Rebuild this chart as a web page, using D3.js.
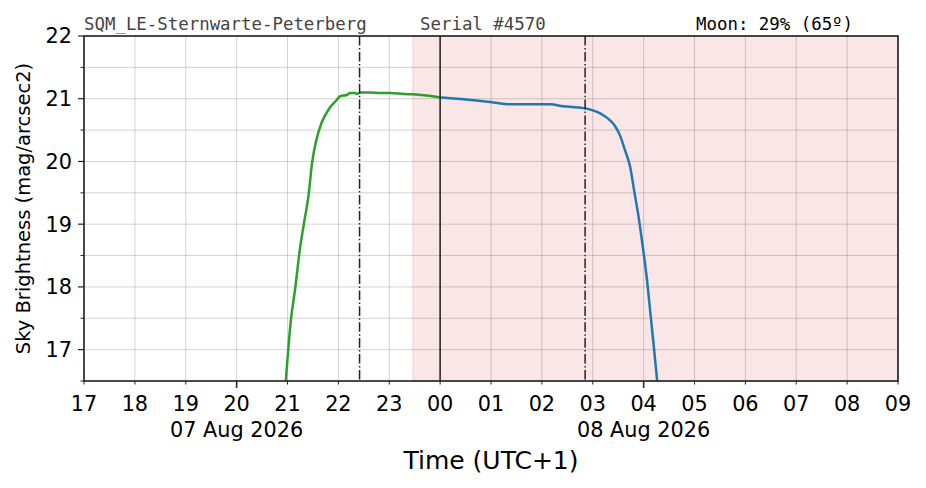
<!DOCTYPE html>
<html><head><meta charset="utf-8">
<script src="https://cdn.jsdelivr.net/npm/d3@7/dist/d3.min.js"></script>
<style>
html,body{margin:0;padding:0;background:#fff;}
</style></head>
<body><svg id="c" width="926" height="488"></svg>
<script>
// ---------- data ----------
const xDomain = ["2026-08-07 17:00", "2026-08-08 09:00"];
const yDomain = [16.5, 22];
const hourTicks = ["2026-08-07 17:00","2026-08-07 18:00","2026-08-07 19:00","2026-08-07 20:00","2026-08-07 21:00","2026-08-07 22:00","2026-08-07 23:00","2026-08-08 00:00","2026-08-08 01:00","2026-08-08 02:00","2026-08-08 03:00","2026-08-08 04:00","2026-08-08 05:00","2026-08-08 06:00","2026-08-08 07:00","2026-08-08 08:00","2026-08-08 09:00"];
const hourLabels = ["17","18","19","20","21","22","23","00","01","02","03","04","05","06","07","08","09"];
const majorTicks = ["2026-08-07 20:00","2026-08-08 04:00"];
const dateLabels = ["07 Aug 2026","08 Aug 2026"];
const yTicks = [17,18,19,20,21,22];
const yMinorTicks = [16.5,17.5,18.5,19.5,20.5,21.5];

const greenTimes = ["2026-08-07 20:58","2026-08-07 21:04","2026-08-07 21:09","2026-08-07 21:15","2026-08-07 21:19","2026-08-07 21:25","2026-08-07 21:29","2026-08-07 21:34","2026-08-07 21:40","2026-08-07 21:46","2026-08-07 21:50","2026-08-07 21:58","2026-08-07 22:02","2026-08-07 22:10","2026-08-07 22:14","2026-08-07 22:20","2026-08-07 22:22","2026-08-07 22:26","2026-08-07 22:37","2026-08-07 22:50","2026-08-07 23:01","2026-08-07 23:17","2026-08-07 23:28","2026-08-07 23:44","2026-08-08 00:00"];
const greenValues = [16.5,17.47,17.97,18.64,18.98,19.48,19.98,20.34,20.61,20.77,20.86,20.98,21.04,21.06,21.09,21.09,21.075,21.10,21.10,21.09,21.09,21.075,21.07,21.05,21.02];

const blueTimes = ["2026-08-08 00:00","2026-08-08 00:20","2026-08-08 00:43","2026-08-08 01:03","2026-08-08 01:22","2026-08-08 01:46","2026-08-08 02:10","2026-08-08 02:25","2026-08-08 02:49","2026-08-08 03:05","2026-08-08 03:12","2026-08-08 03:20","2026-08-08 03:26","2026-08-08 03:32","2026-08-08 03:38","2026-08-08 03:44","2026-08-08 03:49","2026-08-08 03:54","2026-08-08 03:59","2026-08-08 04:04","2026-08-08 04:08","2026-08-08 04:12","2026-08-08 04:16"];
const blueValues = [21.02,21.00,20.97,20.94,20.91,20.91,20.91,20.88,20.85,20.79,20.74,20.66,20.57,20.42,20.18,19.92,19.52,19.12,18.64,18.11,17.58,17.05,16.5];

const midnight = "2026-08-08 00:00";
const dashLines = ["2026-08-07 22:25","2026-08-08 02:51"];
const shadeStart = "2026-08-07 23:28";
const station = "SQM_LE-Sternwarte-Peterberg";
const serial = "Serial #4570";
const moon = "Moon: 29% (65\u00BA)";

// ---------- chart ----------
const parse = d3.utcParse("%Y-%m-%d %H:%M");
const sans = "'DejaVu Sans', sans-serif";
const mono = "'DejaVu Sans Mono', monospace";
const m = {l:84, r:898, t:36, b:381};
const svg = d3.select("#c");
const x = d3.scaleUtc().domain(xDomain.map(parse)).range([m.l, m.r]);
const y = d3.scaleLinear().domain(yDomain).range([m.b, m.t]);

// shaded region
svg.append("rect").attr("x", x(parse(shadeStart))).attr("y", m.t)
  .attr("width", m.r - x(parse(shadeStart))).attr("height", m.b - m.t)
  .attr("fill", "#fae6e6").attr("stroke", "#f2cccc").attr("stroke-width", 1);

// grid
const grid = svg.append("g").attr("stroke", "#000").attr("stroke-opacity", 0.22).attr("stroke-width", 0.8);
hourTicks.forEach(t => grid.append("line").attr("x1", x(parse(t))).attr("x2", x(parse(t))).attr("y1", m.t).attr("y2", m.b));
yTicks.concat(yMinorTicks).forEach(v => grid.append("line").attr("x1", m.l).attr("x2", m.r).attr("y1", y(v)).attr("y2", y(v)));

// lines
svg.append("clipPath").attr("id","clp").append("rect").attr("x",m.l).attr("y",m.t).attr("width",m.r-m.l).attr("height",m.b-m.t);
const line = d3.line().x(d => x(d[0])).y(d => y(d[1])).curve(d3.curveMonotoneX);
const gData = greenTimes.map((t,i) => [parse(t), greenValues[i]]);
const bData = blueTimes.map((t,i) => [parse(t), blueValues[i]]);
const plotG = svg.append("g").attr("clip-path","url(#clp)");
plotG.append("path").attr("d", line(gData)).attr("fill","none").attr("stroke","#2ca02c").attr("stroke-width",2.5).attr("stroke-linejoin","round");
plotG.append("path").attr("d", line(bData)).attr("fill","none").attr("stroke","#1f77b4").attr("stroke-width",2.5).attr("stroke-linejoin","round");

// vertical markers
svg.append("line").attr("x1", x(parse(midnight))).attr("x2", x(parse(midnight))).attr("y1", m.t).attr("y2", m.b)
  .attr("stroke","#222").attr("stroke-width",1.5);
dashLines.forEach(t => svg.append("line").attr("x1", x(parse(t))).attr("x2", x(parse(t))).attr("y1", m.t).attr("y2", m.b)
  .attr("stroke","#222").attr("stroke-width",1.5).attr("stroke-dasharray","9.6,2.4,1.5,2.4"));

// spines
svg.append("rect").attr("x", m.l).attr("y", m.t).attr("width", m.r-m.l).attr("height", m.b-m.t)
  .attr("fill","none").attr("stroke","#222").attr("stroke-width",1.6);

const txt = (g, fs) => g.append("text").style("font-family", sans).attr("font-size", fs).attr("fill", "#000");

// x axis ticks
const xa = svg.append("g");
hourTicks.forEach((t,i) => {
  const px = x(parse(t));
  xa.append("line").attr("x1",px).attr("x2",px).attr("y1",m.b).attr("y2",m.b+3.5).attr("stroke","#222").attr("stroke-width",1);
  txt(xa, "20.8px").attr("x",px).attr("y",410.5).attr("text-anchor","middle").text(hourLabels[i]);
});
majorTicks.forEach((t,i) => {
  const px = x(parse(t));
  xa.append("line").attr("x1",px).attr("x2",px).attr("y1",m.b).attr("y2",m.b+7).attr("stroke","#222").attr("stroke-width",1.5);
  txt(xa, "20.8px").attr("x",px).attr("y",437).attr("text-anchor","middle").text(dateLabels[i]);
});
// y axis ticks
const ya = svg.append("g");
yTicks.forEach(v => {
  ya.append("line").attr("x1",m.l-6).attr("x2",m.l).attr("y1",y(v)).attr("y2",y(v)).attr("stroke","#222").attr("stroke-width",1.2);
  txt(ya, "20.8px").attr("x",m.l-12).attr("y",y(v)).attr("dy","0.36em").attr("text-anchor","end").text(v);
});
yMinorTicks.forEach(v => {
  ya.append("line").attr("x1",m.l-3.5).attr("x2",m.l).attr("y1",y(v)).attr("y2",y(v)).attr("stroke","#222").attr("stroke-width",1);
});

// axis labels
txt(svg, "19.5px").attr("transform",`translate(30,${(m.t+m.b)/2}) rotate(-90)`).attr("text-anchor","middle")
  .text("Sky Brightness (mag/arcsec2)");
txt(svg, "25px").attr("x",(m.l+m.r)/2).attr("y",469).attr("text-anchor","middle").text("Time (UTC+1)");

// header texts
svg.append("text").attr("x",84).attr("y",30).style("font-family",mono).attr("font-size","17.4px").attr("fill","#444").text(station);
svg.append("text").attr("x",420).attr("y",30).style("font-family",mono).attr("font-size","17.4px").attr("fill","#444").text(serial);
svg.append("text").attr("x",696).attr("y",30).style("font-family",mono).attr("font-size","17.4px").attr("fill","#000").text(moon);
</script></body></html>
